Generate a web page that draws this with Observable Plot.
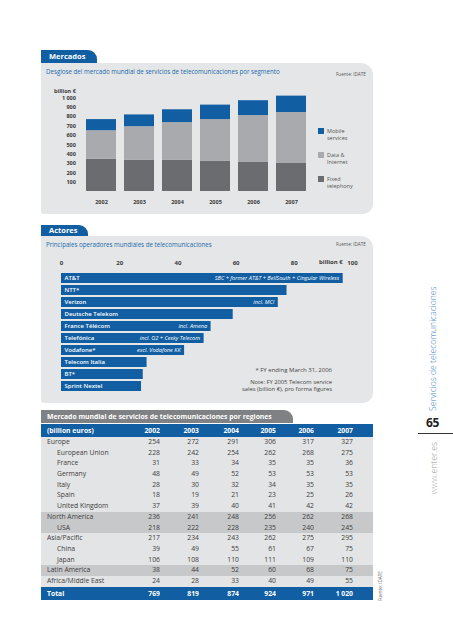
<!DOCTYPE html>
<html><head><meta charset="utf-8">
<script src="https://cdn.jsdelivr.net/npm/d3@7"></script>
<script src="https://cdn.jsdelivr.net/npm/@observablehq/plot@0.6"></script>
<style>
body{margin:0;width:453px;height:640px;position:relative;background:#fff;font-family:"Open Sans",sans-serif;overflow:hidden;color:#444}
.abs{position:absolute;white-space:nowrap}
.tab{position:absolute;background:#115ea3;color:#fff;font-weight:700;font-size:7.5px;border-top-right-radius:9px;padding-left:8px;box-sizing:border-box;white-space:nowrap;overflow:hidden}
.panel{position:absolute;background:#e5e6e7;border-radius:0 12px 10px 3px}
.sub{position:absolute;color:#1a69ad;font-size:6.2px;white-space:nowrap}
.src{position:absolute;color:#555;font-size:4.6px;white-space:nowrap}
.leg{position:absolute;font-size:5.5px;line-height:7px;color:#555}
.leg i{position:absolute;left:-9px;top:0.5px;width:6px;height:6px}
.tbl{position:absolute;left:41px;top:424px;width:332px;display:grid;grid-template-columns:80px 39px 39px 40px 37px 38px 59px;font-size:6.8px;color:#3d3d3d}
.tbl div{text-align:right;height:10.7px;line-height:10.7px;white-space:nowrap}
.tbl div.lab{text-align:left;padding-left:6px}
.tbl div.ind{padding-left:16px}
.tbl div.last{padding-right:20px}
.tbl .hd{background:#115ea3;color:#fff;font-weight:700;height:13px;line-height:13px}
.tbl .lt{background:#e3e4e5}
.tbl .dk{background:#c7c8ca}
.rot{position:absolute;transform-origin:0 0;transform:rotate(-90deg);white-space:nowrap}
</style></head>
<body>
<div id="root"></div>
<script>
// ---------- data: Mercados ----------
const years = ["2002","2003","2004","2005","2006","2007"];
const segments = ["Fixed telephony","Data & Internet","Mobile services"];
const fixedTelephony = [345,336,336,325,315,305];
const dataInternet   = [305,357,401,444,497,540];
const mobileServices = [119,126,137,155,159,175];
const yTicks = [100,200,300,400,500,600,700,800,900,1000];
const segColors = ["#6b6c6f","#a9aaad","#115ea3"];
const legendLines = [["Mobile","services"],["Data &","Internet"],["Fixed","telephony"]];

// ---------- data: Actores ----------
const operators = ["AT&T","NTT*","Verizon","Deutsche Telekom","France Télécom","Telefónica","Vodafone*","Telecom Italia","BT*","Sprint Nextel"];
const sales = [96.8,77.5,74.5,59.0,51.4,49.0,42.3,29.4,28.1,27.5];
const salesNotes = ["SBC + former AT&T + BellSouth + Cingular Wireless","","incl. MCI","","incl. Amena","incl. O2 + Cesky Telecom","excl. Vodafone KK","","",""];
const xTicks = [0,20,40,60,80,100];

// ---------- data: table ----------
const regionNames = ["Europe","European Union","France","Germany","Italy","Spain","United Kingdom","North America","USA","Asia/Pacific","China","Japan","Latin America","Africa/Middle East"];
const regionIndent = [0,1,1,1,1,1,1,0,1,0,1,1,0,0];
const regionShade = ["lt","lt","lt","lt","lt","lt","lt","dk","dk","lt","lt","lt","dk","lt"];
const europe = [254,272,291,306,317,327];
const europeanUnion = [228,242,254,262,268,275];
const france = [31,33,34,35,35,36];
const germany = [48,49,52,53,53,53];
const italy = [28,30,32,34,35,35];
const spain = [18,19,21,23,25,26];
const unitedKingdom = [37,39,40,41,42,42];
const northAmerica = [236,241,248,256,262,268];
const usa = [218,222,228,235,240,245];
const asiaPacific = [217,234,243,262,275,295];
const china = [39,49,55,61,67,75];
const japan = [106,108,110,111,109,110];
const latinAmerica = [38,44,52,60,68,75];
const africaMiddleEast = [24,28,33,40,49,55];
const totals = [769,819,874,924,971,1020];
const regionValues = [europe,europeanUnion,france,germany,italy,spain,unitedKingdom,northAmerica,usa,asiaPacific,china,japan,latinAmerica,africaMiddleEast];

const fmt = d => d3.format(",")(d).replace(/,/g," ");
const root = document.getElementById("root");
function add(html){ root.insertAdjacentHTML("beforeend", html); }

// ---------- static page frame ----------
add(`<div class="tab" style="left:41px;top:50px;width:56px;height:13px;line-height:13px">Mercados</div>`);
add(`<div class="panel" style="left:41px;top:63px;width:332px;height:151px"></div>`);
add(`<div class="sub" style="left:46px;top:67px">Desglose del mercado mundial de servicios de telecomunicaciones por segmento</div>`);
add(`<div class="src" style="left:336px;top:71px">Fuente: IDATE</div>`);
add(`<div class="abs" style="left:54px;top:87px;font-size:5.5px;font-weight:700;color:#3a3a3a">billion €</div>`);

add(`<div class="tab" style="left:41px;top:225px;width:47px;height:11px;line-height:11px">Actores</div>`);
add(`<div class="panel" style="left:41px;top:236px;width:332px;height:167px"></div>`);
add(`<div class="sub" style="left:46px;top:240px">Principales operadores mundiales de telecomunicaciones</div>`);
add(`<div class="src" style="left:336px;top:241px">Fuente: IDATE</div>`);

add(`<div class="tab" style="left:41px;top:410px;width:252px;height:13px;line-height:13px;background:#808184;font-size:6.8px;padding-left:6px">Mercado mundial de servicios de telecomunicaciones por regiones</div>`);

// ---------- chart 1 ----------
const stackRows = years.flatMap((y,i)=>[
  {year:y, segment:segments[0], value:fixedTelephony[i]},
  {year:y, segment:segments[1], value:dataInternet[i]},
  {year:y, segment:segments[2], value:mobileServices[i]}
]);
const chart1 = Plot.plot({
  width:333, height:132, marginLeft:37.4, marginRight:58.8, marginTop:17.5, marginBottom:21,
  style:{background:"transparent", fontFamily:"'Open Sans', sans-serif", fontSize:"5.5px", fontWeight:"700", color:"#3a3a3a", overflow:"visible"},
  x:{domain:years, padding:0.2, label:null, tickSize:0, tickPadding:9},
  y:{domain:[0,1000], ticks:yTicks, tickFormat:fmt, label:null, tickSize:0, tickPadding:2},
  color:{domain:segments, range:segColors},
  marks:[Plot.barY(stackRows,{x:"year", y:"value", fill:"segment", order:segments})]
});
const c1 = document.createElement("div");
c1.className="abs"; c1.style.cssText="left:40px;top:80px;width:333px;height:132px";
c1.appendChild(chart1); root.appendChild(c1);

// legend
const legTops = [128,152,176];
[2,1,0].forEach((si,k)=>{
  add(`<div class="leg" style="left:327px;top:${legTops[k]-0.5}px"><i style="background:${segColors[si]}"></i>${legendLines[k][0]}<br>${legendLines[k][1]}</div>`);
});

// ---------- chart 2 ----------
const opRows = operators.map((o,i)=>({operator:o, value:sales[i], note:salesNotes[i]}));
const chart2 = Plot.plot({
  width:333, height:145, marginLeft:21, marginRight:21, marginTop:17.8, marginBottom:3.7,
  style:{background:"transparent", fontFamily:"'Open Sans', sans-serif", fontSize:"6px", fontWeight:"700", color:"#3a3a3a", overflow:"visible"},
  x:{domain:[0,100], axis:"top", ticks:xTicks, tickSize:0, tickPadding:5, label:null},
  y:{domain:operators, paddingInner:0.2, paddingOuter:0.1, axis:null},
  marks:[
    Plot.barX(opRows,{x:"value", y:"operator", fill:"#115ea3"}),
    Plot.text(opRows,{x:0, y:"operator", text:"operator", dx:3, textAnchor:"start", fill:"#fff", fontSize:6, fontWeight:600}),
    Plot.text(opRows.filter(d=>d.note),{x:"value", y:"operator", text:"note", dx:-4, textAnchor:"end", fill:"#fff", fontStyle:"italic", fontWeight:400, fontSize:5.6})
  ]
});
const c2 = document.createElement("div");
c2.className="abs"; c2.style.cssText="left:40px;top:252px;width:333px;height:145px";
c2.appendChild(chart2); root.appendChild(c2);
add(`<div class="abs" style="left:319px;top:258px;font-size:6px;font-weight:700;color:#3a3a3a">billion €</div>`);
add(`<div class="abs" style="left:232px;top:366px;width:100px;text-align:right;font-size:6px;color:#444">* FY ending March 31, 2006</div>`);
add(`<div class="abs" style="left:182px;top:379px;width:150px;text-align:right;font-size:5.8px;line-height:7px;color:#444">Note: FY 2005 Telecom service<br>sales (billion €), pro forma figures</div>`);

// ---------- table ----------
let t = `<div class="tbl">`;
t += `<div class="hd lab">(billion euros)</div>` + years.map((y,j)=>`<div class="hd${j===5?" last":""}">${y}</div>`).join("");
regionNames.forEach((n,i)=>{
  t += `<div class="${regionShade[i]} lab${regionIndent[i]?" ind":""}">${n}</div>`;
  t += regionValues[i].map((v,j)=>`<div class="${regionShade[i]}${j===5?" last":""}">${fmt(v)}</div>`).join("");
});
t += `<div class="hd lab">Total</div>` + totals.map((v,j)=>`<div class="hd${j===5?" last":""}">${fmt(v)}</div>`).join("");
t += `</div>`;
add(t);
add(`<div class="rot" style="left:377px;top:601px;font-size:4.6px;color:#666">Fuente: IDATE</div>`);

// ---------- side ----------
add(`<div class="rot" style="left:427px;top:411px;font-size:8.6px;color:#3f88c6;font-weight:300">Servicios de telecomunicaciones</div>`);
add(`<div class="abs" style="left:426px;top:414px;font-size:12px;font-weight:700;color:#222;letter-spacing:-0.3px">65</div>`);
add(`<div class="abs" style="left:418px;top:433px;width:35px;height:1px;background:#333"></div>`);
add(`<div class="rot" style="left:428px;top:562px;width:120px;text-align:right;font-size:8.6px;color:#999;font-weight:300">www.enter.es</div>`);
</script>
</body></html>
